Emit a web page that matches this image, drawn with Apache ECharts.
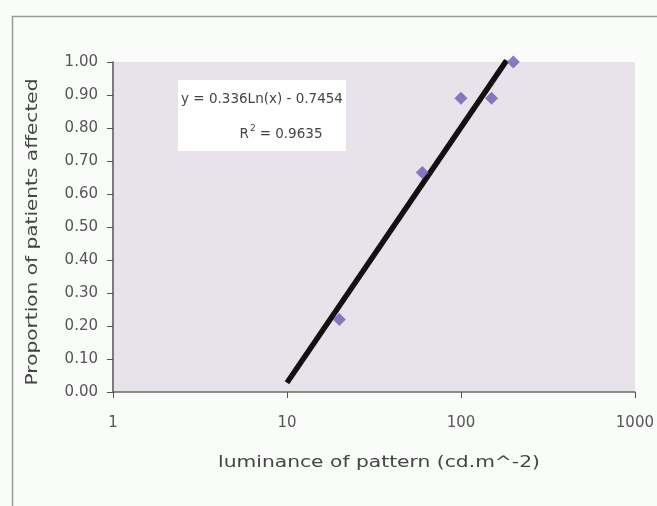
<!DOCTYPE html>
<html><head><meta charset="utf-8">
<script src="https://cdn.jsdelivr.net/npm/echarts@6/dist/echarts.min.js"></script>
<style>html,body{margin:0;padding:0;background:#fafcfa}#c{width:657px;height:506px}</style>
</head><body><div id="c"></div>
<script>
var luminance = [20, 60, 100, 150, 200];
var proportion = [0.22, 0.665, 0.89, 0.89, 1.00];
var trendX = [10, 183];
var trendY = [0.028, 1.005];
var xTicks = ['1', '10', '100', '1000'];
var xTitle = 'luminance of pattern (cd.m^-2)';
var yTitle = 'Proportion of patients affected';
var equationText = 'y = 0.336Ln(x) - 0.7454';
var r2Text = '0.9635';

var chart = echarts.init(document.getElementById('c'));
var font = '"DejaVu Sans", Verdana, sans-serif';
chart.setOption({
  backgroundColor: '#fafcfa',
  animation: false,
  grid: {left: 113, right: 20, top: 62, bottom: 114, show: true, backgroundColor: '#e8e2ea', borderWidth: 0},
  xAxis: {
    type: 'log', logBase: 10, min: 1, max: 1000,
    axisLine: {show: true, lineStyle: {color: '#6b6b5a', width: 1.5}},
    axisTick: {show: true, length: 6, lineStyle: {color: '#555'}},
    splitLine: {show: false},
    minorTick: {show: false},
    axisLabel: {fontFamily: font, fontSize: 15, color: '#555', margin: 24,
      formatter: function (v) { var i = Math.round(Math.log10(v)); return xTicks[i] !== undefined ? xTicks[i] : ''; }}
  },
  yAxis: {
    type: 'value', min: 0, max: 1, interval: 0.1,
    axisLine: {show: true, lineStyle: {color: '#555', width: 1.5}},
    axisTick: {show: true, length: 6, lineStyle: {color: '#555'}},
    splitLine: {show: false},
    axisLabel: {fontFamily: font, fontSize: 15, color: '#555', margin: 15,
      formatter: function (v) { return v.toFixed(2); }}
  },
  series: [
    {type: 'line', data: trendX.map(function (x, i) { return [x, trendY[i]]; }),
     showSymbol: false, symbol: 'none', lineStyle: {color: '#111', width: 5.5}, z: 2},
    {type: 'scatter', data: luminance.map(function (x, i) { return [x, proportion[i]]; }),
     symbol: 'diamond', symbolSize: 13, itemStyle: {color: '#6a5cb8'}, z: 3}
  ],
  graphic: [
    {type: 'rect', left: 10, top: 14, shape: {width: 720, height: 600},
     style: {fill: 'none', stroke: '#999', lineWidth: 1.5}, silent: true},
    {type: 'text', x: 379, y: 463, scaleX: 1.35, z: 11,
     style: {text: xTitle, font: '15px ' + font, fill: '#444', textAlign: 'center', textVerticalAlign: 'middle'}},
    {type: 'text', x: 33, y: 232, rotation: Math.PI / 2, scaleX: 1.34, z: 11,
     style: {text: yTitle, font: '15px ' + font, fill: '#444', textAlign: 'center', textVerticalAlign: 'middle'}},
    {type: 'rect', left: 178, top: 80, shape: {width: 168, height: 71},
     style: {fill: '#ffffff', stroke: 'none'}, z: 10},
    {type: 'text', x: 262, y: 99, z: 11,
     style: {text: equationText, font: '13.5px ' + font, fill: '#444', textAlign: 'center', textVerticalAlign: 'middle'}},
    {type: 'text', x: 281, y: 133, z: 11,
     style: {text: '{r|R}{s|2}{r|= ' + r2Text + '}', font: '13.5px ' + font, fill: '#444', textAlign: 'center', textVerticalAlign: 'middle',
       rich: {r: {fontSize: 13.5, fontFamily: font, fill: '#444', verticalAlign: 'bottom'},
              s: {fontSize: 9, fontFamily: font, fill: '#444', verticalAlign: 'top', padding: [0, 4, 8, 1]}}}}
  ]
});
</script></body></html>
